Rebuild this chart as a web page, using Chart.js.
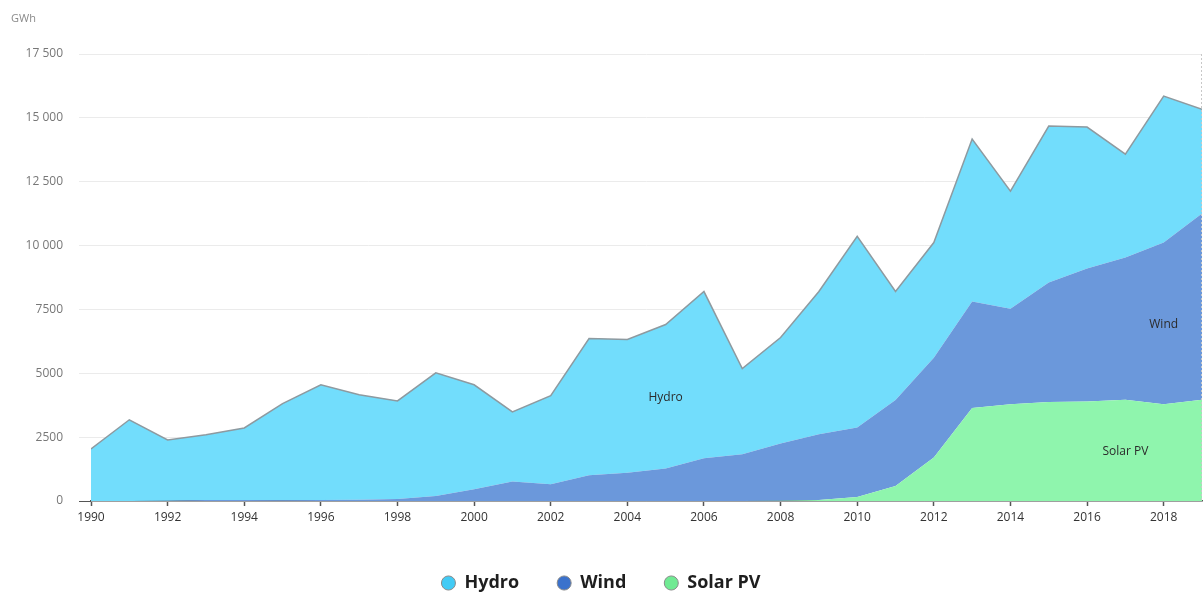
<!DOCTYPE html>
<html>
<head>
<meta charset="utf-8">
<script src="https://cdn.jsdelivr.net/npm/chart.js@4"></script>
<style>
  html, body { margin: 0; padding: 0; background: #fff; }
  #wrap { width: 1203px; height: 592px; }
</style>
</head>
<body>
<div id="wrap"><canvas id="grafico"></canvas></div>
<script>
// Dados (GWh)
const anos = [1990, 1991, 1992, 1993, 1994, 1995, 1996, 1997, 1998, 1999,
  2000, 2001, 2002, 2003, 2004, 2005, 2006, 2007, 2008, 2009,
  2010, 2011, 2012, 2013, 2014, 2015, 2016, 2017, 2018, 2019];
const hydro = [2040, 3180, 2380, 2550, 2820, 3780, 4510, 4110, 3840, 4820,
  4090, 2730, 3465, 5350, 5210, 5640, 6525, 3350, 4150, 5585,
  7480, 4250, 4510, 6360, 4600, 6130, 5540, 4050, 5730, 4080];
const wind = [0, 0, 10, 40, 40, 30, 40, 50, 80, 200,
  460, 760, 655, 1010, 1110, 1270, 1675, 1830, 2240, 2575,
  2720, 3360, 3910, 4170, 3740, 4670, 5200, 5570, 6330, 7300];
const solar = [0, 0, 0, 0, 0, 0, 0, 0, 0, 0,
  0, 0, 0, 0, 0, 0, 0, 0, 10, 40,
  160, 590, 1700, 3640, 3790, 3880, 3900, 3960, 3790, 3960];
const xTicks = [1990, 1992, 1994, 1996, 1998, 2000, 2002, 2004, 2006, 2008, 2010, 2012, 2014, 2016, 2018];
const yTicks = [0, 2500, 5000, 7500, 10000, 12500, 15000, 17500];
const yTickLabels = ["0", "2500", "5000", "7500", "10 000", "12 500", "15 000", "17 500"];
// rótulos dentro da área: [texto, ano, valor]
const rotulos = [["Hydro", 2005, 4040], ["Wind", 2018, 6900], ["Solar PV", 2017, 1920]];

function pontos(serie) {
    return anos.map(function (a, i) { return { x: a, y: serie[i] }; });
}

// Plugin: unidade, rótulos das áreas e linha pontilhada no último ano
const extras = {
    id: "extras",
    afterDatasetsDraw(chart) {
        const ctx = chart.ctx;
        const x = chart.scales.x, y = chart.scales.y;
        ctx.save();
        ctx.font = "11px 'Open Sans', sans-serif";
        ctx.fillStyle = "#8a8a8a";
        ctx.textAlign = "left";
        ctx.textBaseline = "middle";
        ctx.fillText("GWh", 11, 19);

        ctx.font = "12px 'Open Sans', sans-serif";
        ctx.fillStyle = "#2b2b2b";
        ctx.textAlign = "center";
        rotulos.forEach(function (r) {
            ctx.fillText(r[0], x.getPixelForValue(r[1]), y.getPixelForValue(r[2]));
        });
        const px = Math.round(x.getPixelForValue(anos[anos.length - 1])) - 0.5;
        ctx.strokeStyle = "#c8c8c8";
        ctx.lineWidth = 1;
        ctx.setLineDash([2, 2]);
        ctx.beginPath();
        ctx.moveTo(px, chart.chartArea.top);
        ctx.lineTo(px, chart.chartArea.bottom);
        ctx.stroke();
        ctx.restore();
    }
};

new Chart(document.getElementById("grafico"), {
    type: "line",
    data: {
        datasets: [
            {
                label: "Solar PV", data: pontos(solar), fill: "origin",
                backgroundColor: "#8ff5ad", borderWidth: 0, pointRadius: 0,
                legendColor: "#70ea93"
            },
            {
                label: "Wind", data: pontos(wind), fill: "-1",
                backgroundColor: "#6b98db", borderWidth: 0, pointRadius: 0,
                legendColor: "#3b72cc"
            },
            {
                label: "Hydro", data: pontos(hydro), fill: "-1",
                backgroundColor: "#72ddfc", borderColor: "#8e9aa0", borderWidth: 1.5,
                pointRadius: 0, legendColor: "#42cbf5"
            }
        ]
    },
    options: {
        responsive: true,
        maintainAspectRatio: false,
        animation: false,
        layout: { padding: { left: 0, right: 1, top: 54, bottom: -10 } },
        scales: {
            x: {
                type: "linear",
                min: 1990, max: 2019,
                bounds: "data",
                afterBuildTicks: function (s) { s.ticks = xTicks.map(function (v) { return { value: v }; }); },
                afterFit: function (s) { s.height = 35; },
                ticks: {
                    maxRotation: 0, autoSkip: false,
                    padding: 4,
                    color: "#333",
                    font: { family: "'Open Sans', sans-serif", size: 12 },
                    callback: function (v) { return String(v); }
                },
                grid: { drawOnChartArea: false, drawTicks: true, tickLength: 5, tickColor: "#555", tickWidth: 1.5 },
                border: { display: true, color: "#555", width: 1.5 }
            },
            y: {
                stacked: true,
                min: 0, max: 17500,
                afterFit: function (s) { s.width = 91; },
                afterBuildTicks: function (s) { s.ticks = yTicks.map(function (v) { return { value: v }; }); },
                ticks: {
                    padding: 16,
                    color: "#777",
                    font: { family: "'Open Sans', sans-serif", size: 12 },
                    callback: function (v) { return yTickLabels[yTicks.indexOf(v)]; }
                },
                grid: {
                    color: "#ebebeb", lineWidth: 1, tickLength: 12,
                    tickColor: function (c) { return c.tick && c.tick.value === 0 ? "#555" : "#ebebeb"; }
                },
                border: { display: false }
            }
        },
        plugins: {
            title: { display: false },
            legend: {
                position: "bottom",
                reverse: true,
                labels: {
                    usePointStyle: true, pointStyle: "circle",
                    boxHeight: 10, pointStyleWidth: 14,
                    padding: 38,
                    color: "#1e1e1e",
                    font: { family: "'Open Sans', sans-serif", size: 18, weight: "bold" },
                    generateLabels: function (chart) {
                        return chart.data.datasets.map(function (ds, i) {
                            return {
                                text: ds.label, fillStyle: ds.legendColor, strokeStyle: "#8a8a8a",
                                lineWidth: 1, pointStyle: "circle", datasetIndex: i, hidden: false,
                                fontColor: "#1e1e1e"
                            };
                        });
                    }
                }
            },
            tooltip: { enabled: false }
        }
    },
    plugins: [extras]
});
</script>
</body>
</html>
